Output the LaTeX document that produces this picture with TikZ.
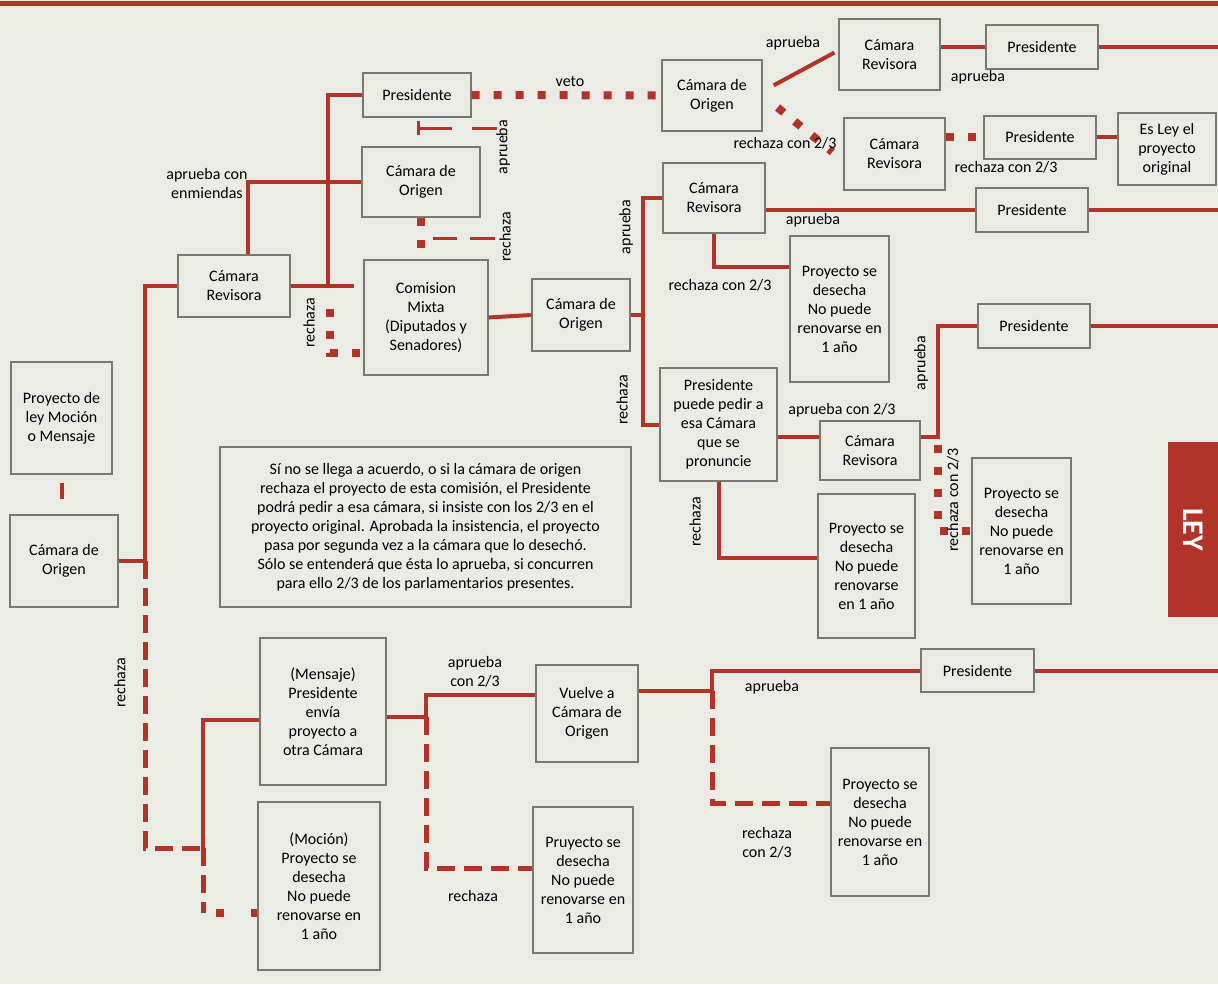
\documentclass[tikz,border=0pt]{standalone}
\usepackage{fontspec}
\setmainfont{Carlito}
\usetikzlibrary{calc,positioning}
\definecolor{lawred}{RGB}{178,52,40}
\definecolor{paper}{RGB}{233,235,228}
\definecolor{boxline}{RGB}{120,120,116}

\begin{document}
\begin{tikzpicture}[x=0.5pt,y=-0.5pt,
  box/.style={draw=boxline,line width=0.6pt,fill=paper,align=center,inner sep=1pt,
    font=\fontsize{8}{9.5}\selectfont},
  lbl/.style={inner sep=0pt,align=center,font=\fontsize{8}{9.5}\selectfont},
  vlbl/.style={lbl,rotate=90},
  conn/.style={draw=lawred,line width=2pt},
  sq/.style={draw=lawred,line width=4pt,dash pattern=on 4pt off 7pt},
  dsh/.style={draw=lawred,line width=2.5pt,dash pattern=on 9pt off 4.5pt},
  thn/.style={draw=lawred,line width=1.5pt}]
 \fill[paper] (0,0) rectangle (1218,984);
 \useasboundingbox (0,0) rectangle (1218,984);
 \draw[lawred,line width=2.5pt] (0,4) -- (1218,4);
 \coordinate (rim) at (1218,0);

 % cajas
 \node[box,minimum width=54pt,minimum height=22pt] (presA) at (417,95) {Presidente};
 \node[box,minimum width=50pt,minimum height=35.5pt] (origB) at (712,95.5) {Cámara de\\Origen};
 \node[box,minimum width=50.5pt,minimum height=35.5pt] (revC) at (889.5,54.5) {Cámara\\Revisora};
 \node[box,minimum width=56pt,minimum height=22pt] (presD) at (1042,47) {Presidente};
 \node[box,minimum width=50.5pt,minimum height=36pt] (revE) at (894.5,154) {Cámara\\Revisora};
 \node[box,minimum width=56pt,minimum height=21.5pt] (presF) at (1040,137.5) {Presidente};
 \node[box,minimum width=49pt,minimum height=36pt] (esley) at (1167,149) {Es Ley el\\proyecto\\original};
 \node[box,minimum width=59pt,minimum height=35pt] (origK) at (421,182) {Cámara de\\Origen};
 \node[box,minimum width=56pt,minimum height=31pt] (revL) at (234,286) {Cámara\\Revisora};
 \node[box,minimum width=62pt,minimum height=57.5pt] (comision) at (426,317.5) {Comision\\Mixta\\(Diputados y\\Senadores)};
 \node[box,minimum width=49pt,minimum height=36pt] (origM) at (581,315) {Cámara de\\Origen};
 \node[box,minimum width=51pt,minimum height=35pt] (revH) at (714,198) {Cámara\\Revisora};
 \node[box,minimum width=56pt,minimum height=22pt] (presI) at (1032,210) {Presidente};
 \node[box,minimum width=49.5pt,minimum height=73pt] (desJ) at (839.5,309) {Proyecto se\\desecha\\No puede\\renovarse en\\1 año};
 \node[box,minimum width=50.5pt,minimum height=56pt] (proyecto) at (61.5,418) {Proyecto de\\ley Moción\\o Mensaje};
 \node[box,minimum width=54pt,minimum height=46pt] (origO) at (64,561) {Cámara de\\Origen};
 \node[box,minimum width=205.5pt,minimum height=80pt] (nota) at (425.5,527) {Sí no se llega a acuerdo, o si la cámara de origen\\rechaza el proyecto de esta comisión, el Presidente\\podrá pedir a esa cámara, si insiste con los 2/3 en el\\proyecto original. Aprobada la insistencia, el proyecto\\pasa por segunda vez a la cámara que lo desechó.\\Sólo se entenderá que ésta lo aprueba, si concurren\\para ello 2/3 de los parlamentarios presentes.};
 \node[box,minimum width=58.5pt,minimum height=56.5pt] (puede) at (718.5,424.5) {Presidente\\puede pedir a\\esa Cámara\\que se\\pronuncie};
 \node[box,minimum width=50pt,minimum height=29.5pt] (revX) at (870,450.5) {Cámara\\Revisora};
 \node[box,minimum width=56pt,minimum height=22pt] (presW) at (1034,326) {Presidente};
 \node[box,minimum width=49.5pt,minimum height=73pt] (desY) at (1021.5,531) {Proyecto se\\desecha\\No puede\\renovarse en\\1 año};
 \node[box,minimum width=48.5pt,minimum height=72pt] (desZ) at (866.5,566) {Proyecto se\\desecha\\No puede\\renovarse\\en 1 año};
 \node[box,minimum width=63pt,minimum height=73.5pt] (mensaje) at (323,711.5) {(Mensaje)\\Presidente\\envía\\proyecto a\\otra Cámara};
 \node[box,minimum width=61pt,minimum height=84pt] (mocion) at (319,886) {(Moción)\\Proyecto se\\desecha\\No puede\\renovarse en\\1 año};
 \node[box,minimum width=51pt,minimum height=48.5pt] (vuelve) at (587,713.5) {Vuelve a\\Cámara de\\Origen};
 \node[box,minimum width=50pt,minimum height=73pt] (desS) at (583,880) {Pruyecto se\\desecha\\No puede\\renovarse en\\1 año};
 \node[box,minimum width=56.5pt,minimum height=21.5pt] (presT) at (977.5,670.5) {Presidente};
 \node[box,minimum width=49pt,minimum height=74pt] (desU) at (880,822) {Proyecto se\\desecha\\No puede\\renovarse en\\1 año};
 \node[fill=lawred,rotate=-90,minimum width=87.5pt,minimum height=25pt,inner sep=0pt,
   text=white,font=\fontsize{15}{15}\selectfont\bfseries] (tab) at (1193,529.5) {LEY};

 \coordinate (jT) at (328,287);
 \coordinate (jO) at (145,561);
 \coordinate (jM) at (203,848);
 \coordinate (jQ) at (203,913);
 \coordinate (jC) at (643,315);
 \coordinate (jX) at (938,437);
 \coordinate (jP) at (426,717);
 \coordinate (jR) at (426,695);
 \coordinate (jS) at (426,868);
 \coordinate (jV) at (712,691);
 \coordinate (jU) at (712,803);

 % arriba
 \draw[sq] (presA.east) -- (origB.west);
 \draw[conn] ($(origB.north east)+(11,26)$) -- ($(revC.south west)+(-4,-38)$);
 \draw[conn] (revC.east |- presD.west) -- (presD.west);
 \draw[conn] (presD.east) -- (presD.east -| rim);
 \draw[sq] ($(origB.east)+(15,12)$) -- ($(revE.west)+(-11,-2)$);
 \draw[sq] (revE.east |- presF.west) -- (presF.west);
 \draw[conn] (presF.east) -- (esley.west |- presF.east);

 % camara revisora y comision mixta
 \draw[conn] (revL.east) -- ++(63,0);
 \draw[conn] (jT) |- (presA.west);
 \draw[conn] ([xshift=7pt]revL.north) |- (origK.west);
 \draw[sq] ($(jT)+(2,22)$) |- (comision.west |- 0,353);
 \draw[sq] (origK.south) -- (origK.south |- comision.north);
 \draw[thn] ($(presA.south)+(1,3)$) -- ++(0,14);
 \draw[thn,dash pattern=on 17pt off 10pt on 12.5pt off 20pt] ($(presA.south)+(1,11)$) -- ++(79,0);
 \draw[thn,dash pattern=on 12pt off 6.5pt on 12.5pt off 20pt] ($(origK.south)+(12,21)$) -- ++(62,0);
 \draw[conn] (comision.east) -- (origM.west);
 \draw[conn] (origM.east) -- (jC);
 \draw[conn] (jC) |- (revH.west);
 \draw[conn] (jC) |- (puede.west);
 \draw[conn] (revH.east |- presI.west) -- (presI.west);
 \draw[conn] (presI.east) -- (presI.east -| rim);
 \draw[conn] (revH.south) |- ([yshift=21pt]desJ.west);
 \draw[conn] (puede.east |- jX) -- (revX.west |- jX);
 \draw[conn] (revX.east |- jX) -- (jX) |- (presW.west);
 \draw[conn] (presW.east) -- (presW.east -| rim);
 \draw[sq] ([yshift=-4pt]jX) |- (desY.west);
 \draw[conn] (puede.south) |- ([yshift=4pt]desZ.west);

 % lado izquierdo y abajo
 \draw[conn] ([yshift=-4pt]proyecto.south) -- ([yshift=7.5pt]origO.north -| proyecto.south);
 \draw[conn] (origO.east) -- (jO) |- (revL.west);
 \draw[dsh] (jO) |- (jM);
 \draw[conn] (jM) |- ([yshift=-4pt]mensaje.west);
 \draw[dsh] (jM) -- (jQ);
 \draw[sq,dash pattern=on 4pt off 13.5pt] ($(jQ)+(13,0)$) -- (mocion.west |- jQ);
 \draw[conn] (mensaje.east |- jP) -- (jP) -- (jR) -- (vuelve.west |- jR);
 \draw[dsh] (jP) -- (jS) -- (desS.west |- jS);
 \draw[conn] (vuelve.east |- jV) -- (jV) |- (presT.west);
 \draw[conn] (presT.east) -- (presT.east -| rim);
 \draw[dsh] (jV) -- (jU) -- (desU.west |- jU);

 % etiquetas
 \node[lbl] (tVeto) at (570,82) {veto};
 \node[lbl] (tApr1) at (793,43) {aprueba};
 \node[lbl] (tApr2) at (978,77) {aprueba};
 \node[lbl] (tRec1) at (785,143) {rechaza con 2/3};
 \node[lbl] (tRec2) at (1006,167) {rechaza con 2/3};
 \node[lbl] (tEnm) at (207,184) {aprueba con\\enmiendas};
 \node[vlbl] (tApr3) at (503,147) {aprueba};
 \node[vlbl] (tRec3) at (505,237) {rechaza};
 \node[vlbl] (tRec4) at (309,323) {rechaza};
 \node[lbl] (tApr4) at (813,220) {aprueba};
 \node[lbl] (tRec5) at (720,285) {rechaza con 2/3};
 \node[vlbl] (tApr5) at (626,227) {aprueba};
 \node[vlbl] (tRec6) at (622,400) {rechaza};
 \node[lbl] (tApr6) at (842,410) {aprueba con 2/3};
 \node[vlbl] (tApr7) at (921,363) {aprueba};
 \node[vlbl] (tRec7) at (953,500) {rechaza con 2/3};
 \node[vlbl] (tRec8) at (695,522) {rechaza};
 \node[vlbl] (tRec9) at (120,683) {rechaza};
 \node[lbl] (tApr8) at (475,672) {aprueba\\con 2/3};
 \node[lbl] (tRec10) at (473,896) {rechaza};
 \node[lbl] (tApr9) at (772,687) {aprueba};
 \node[lbl] (tRec11) at (767,843) {rechaza\\con 2/3};
\end{tikzpicture}
\end{document}
